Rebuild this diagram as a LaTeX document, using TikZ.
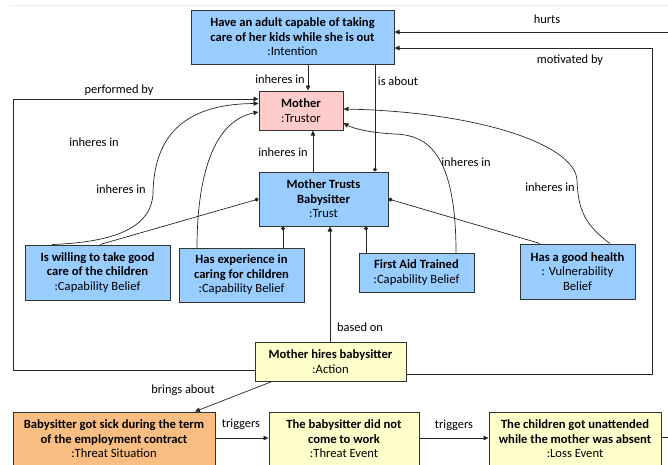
\documentclass[tikz,border=0pt]{standalone}
\usepackage{fontspec}
\setmainfont{Carlito}
\usetikzlibrary{arrows.meta}
\definecolor{bblue}{RGB}{153,204,255}
\definecolor{bpink}{RGB}{255,204,204}
\definecolor{byellow}{RGB}{255,255,204}
\definecolor{borange}{RGB}{250,190,130}
\begin{document}
\begin{tikzpicture}[x=1pt,y=-1pt,
  box/.style={draw=black!80, line width=1pt, inner sep=0pt, align=center,
    font=\fontsize{12.6}{14.5}\selectfont},
  lbl/.style={font=\fontsize{12.4}{13}\selectfont, inner sep=0pt},
  conn/.style={line width=0.7pt, draw=black!85},
  arr/.style={conn, -{Triangle[length=5pt,width=4.5pt]}},
  dotl/.style={conn, -{Circle[length=4pt]}}]
\useasboundingbox (0,0) rectangle (668,464);
\clip (0,0) rectangle (668,464);
\draw[black!8, line width=0.8pt] (10,5) -- (668,5);

% nodes
\node[box, fill=bblue, minimum width=203pt, minimum height=54pt] (int) at (292.5,37)
  {\textbf{Have an adult capable of taking}\\\textbf{care of her kids while she is out}\\:Intention};
\node[box, fill=bpink, minimum width=84pt, minimum height=39pt] (mo) at (301,110.5)
  {\textbf{Mother}\\:Trustor};
\node[box, fill=bblue, minimum width=129pt, minimum height=54pt] (tr) at (323.5,199)
  {\textbf{Mother Trusts}\\\textbf{Babysitter}\\:Trust};
\node[box, fill=bblue, minimum width=145pt, minimum height=55pt] (wi) at (97.5,272.5)
  {\textbf{Is willing to take good}\\\textbf{care of the children}\\:Capability Belief};
\node[box, fill=bblue, minimum width=125pt, minimum height=54pt] (ex) at (241.5,275)
  {\textbf{Has experience in}\\\textbf{caring for children}\\:Capability Belief};
\node[box, fill=bblue, minimum width=115pt, minimum height=39pt] (fa) at (416.5,272.5)
  {\textbf{First Aid Trained}\\:Capability Belief};
\node[box, fill=bblue, minimum width=115pt, minimum height=55pt] (he) at (577.5,271.5)
  {\textbf{Has a good health}\\: Vulnerability\\Belief};
\node[box, fill=byellow, minimum width=151pt, minimum height=39pt] (ac) at (330.5,361.5)
  {\textbf{Mother hires babysitter}\\:Action};
\node[box, fill=borange, minimum width=202pt, minimum height=54pt] (ts) at (114,439)
  {\textbf{Babysitter got sick during the term}\\\textbf{of the employment contract}\\:Threat Situation};
\node[box, fill=byellow, minimum width=150pt, minimum height=54pt] (te) at (344,439)
  {\textbf{The babysitter did not}\\\textbf{come to work}\\:Threat Event};
\node[box, fill=byellow, minimum width=172pt, minimum height=54pt] (lo) at (575,439)
  {\textbf{The children got unattended}\\\textbf{while the mother was absent}\\:Loss Event};

\coordinate (pb) at (13,99);
\coordinate (mb) at (652,48);
\coordinate (hu1) at (690,437);
\coordinate (hu2) at (690,32);
\coordinate (c1) at (153,193);
\coordinate (c2) at (577,180);

% straight connectors
\draw[arr] ([xshift=15.5pt]int.south) -- ([xshift=7pt]mo.north)
  node[lbl] at (280,79) {inheres in};
\draw[dotl] ([xshift=82.5pt]int.south) -- ([xshift=51.5pt]tr.north)
  node[lbl] at (398,81) {is about};
\draw[arr] ([xshift=-10.5pt]tr.north) -- ([xshift=12pt]mo.south)
  node[lbl] at (283,152) {inheres in};
\draw[dotl] ([xshift=2.5pt]wi.north) -- (tr.west);
\draw[dotl] ([xshift=41.5pt]ex.north) -- ([xshift=-40.5pt]tr.south);
\draw[dotl] ([xshift=-50.5pt]fa.north) -- ([xshift=42.5pt]tr.south);
\draw[dotl] ([xshift=-37.5pt]he.north) -- (tr.east);
\draw[arr] ([xshift=-0.5pt]ac.north) -- ([xshift=6.5pt]tr.south)
  node[lbl] at (360,327) {based on};
\draw[arr] ([yshift=-8.5pt]ac.west) -| (pb) -- ([yshift=11.5pt]mo.west)
  node[lbl] at (119,90) {performed by};
\draw[arr] ([yshift=-12.5pt]ac.east) -| (mb) -- ([yshift=-11pt]int.east)
  node[lbl] at (570,60) {motivated by};
\draw[arr] ([yshift=2pt]lo.east) -- (hu1) -- (hu2) -- ([yshift=5pt]int.east)
  node[lbl] at (547,19) {hurts};
\draw[arr] ([xshift=-58.5pt]ac.south) -- ([xshift=81pt]ts.north)
  node[lbl] at (183,390) {brings about};
\draw[arr] ([yshift=1pt]ts.east) -- ([yshift=1pt]te.west)
  node[lbl] at (241,424) {triggers};
\draw[arr] ([yshift=1pt]te.east) -- ([yshift=1pt]lo.west)
  node[lbl] at (454,425) {triggers};

% curved inheres-in connectors
\draw[arr] ([xshift=-45.5pt]wi.north) .. controls (120,242) and (152,225) .. (c1)
  .. controls (154,140) and (180,104) .. ([yshift=7pt]mo.west)
  node[lbl] at (121,189) {inheres in};
\draw[arr] ([xshift=-44.5pt]ex.north) .. controls (197,190) and (208,122) .. ([yshift=-1.5pt]mo.west)
  node[lbl] at (94,142) {inheres in};
\draw[arr] ([xshift=39.5pt]fa.north) .. controls (456,150) and (425,135) .. (395,134)
  .. controls (370,133) and (352,128) .. ([yshift=-12.5pt]mo.east)
  node[lbl] at (466,162) {inheres in};
\draw[arr] ([xshift=32.5pt]he.north) .. controls (585,225) and (578,210) .. (c2)
  .. controls (575,145) and (480,112) .. ([yshift=1.5pt]mo.east)
  node[lbl] at (550,187) {inheres in};
\end{tikzpicture}
\end{document}
